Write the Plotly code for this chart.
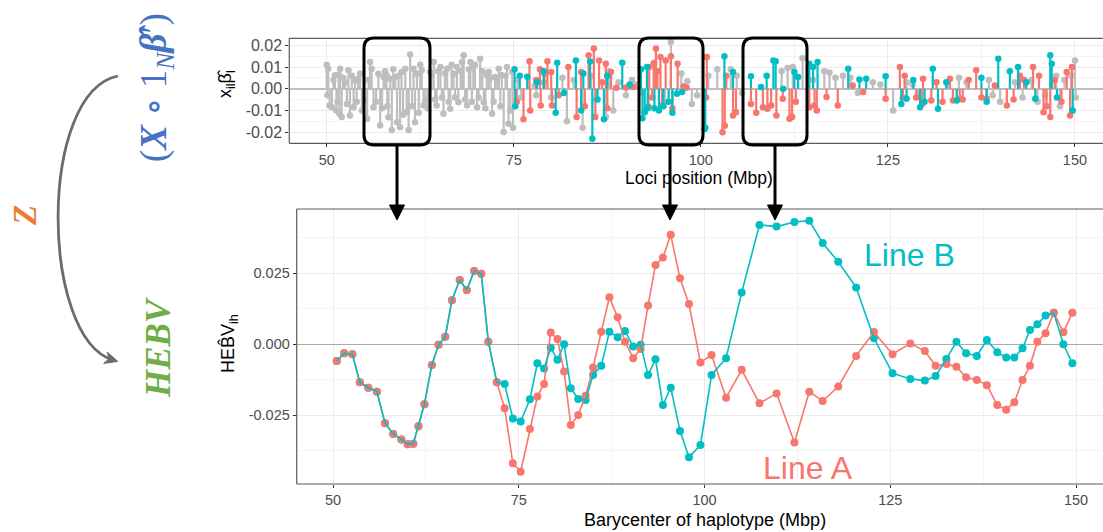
import plotly.graph_objects as go

W, H = 1103, 532

# ---------------- bottom panel data (HEBV per haplotype) ----------------
hap_pos = [50.5, 51.5, 52.6, 53.6, 54.75, 55.9, 57.0, 58.1, 59.2, 60.05,
           60.8, 61.5, 62.3, 63.3, 64.2, 65.1, 66.0, 67.05, 68.0, 69.0,
           69.95, 70.9, 72.05, 73.1, 74.2, 75.25, 76.5, 77.5, 78.4, 79.3,
           80.2, 81.1, 82.0, 83.0, 84.0, 85.0, 86.1, 87.2, 88.3, 89.3,
           90.4, 91.4, 92.4, 93.4, 94.4, 95.45, 96.7, 97.9, 99.45, 100.95,
           102.9, 105.0, 107.4, 109.7, 112.1, 114.1, 115.9, 118.0, 120.4, 122.8,
           125.3, 127.7, 129.65, 131.1, 132.55, 133.9, 135.2, 136.65, 138.0, 139.4,
           140.6, 141.7, 142.8, 143.8, 144.8, 145.9, 147.0, 148.3, 149.5]

line_a = [-0.0059, -0.0032, -0.0035, -0.0134, -0.0153, -0.0167, -0.0278, -0.0316, -0.0335, -0.0352,
          -0.0350, -0.0289, -0.0211, -0.0073, -0.0002, 0.0026, 0.0155, 0.0226, 0.0191, 0.0258,
          0.0248, 0.0009, -0.0134, -0.0225, -0.0419, -0.0449, -0.0298, -0.0184, -0.0140, 0.0041,
          0.0018, -0.0096, -0.0284, -0.0249, -0.0181, -0.0082, 0.0044, 0.0165, 0.0095, 0.0009,
          -0.0049, -0.0017, 0.0136, 0.0279, 0.0305, 0.0385, 0.0232, 0.0142, -0.0064, -0.0038,
          -0.0188, -0.0090, -0.0208, -0.0173, -0.0346, -0.0167, -0.0200, -0.0149, -0.0041, 0.0043,
          -0.0035, 0.0003, -0.0024, -0.0076, -0.0070, -0.0079, -0.0116, -0.0126, -0.0144, -0.0214,
          -0.0231, -0.0204, -0.0126, -0.0076, 0.0009, 0.0039, 0.0111, 0.0042, 0.0111]

line_b = [-0.0059, -0.0032, -0.0035, -0.0134, -0.0153, -0.0167, -0.0278, -0.0316, -0.0335, -0.0352,
          -0.0350, -0.0289, -0.0211, -0.0073, -0.0002, 0.0026, 0.0155, 0.0226, 0.0191, 0.0258,
          0.0248, 0.0009, -0.0134, -0.0140, -0.0261, -0.0272, -0.0194, -0.0067, -0.0085, -0.0012,
          -0.0055, 0.0000, -0.0155, -0.0193, -0.0196, -0.0108, -0.0076, 0.0044, 0.0025, 0.0047,
          -0.0008, -0.0002, -0.0108, -0.0053, -0.0214, -0.0153, -0.0305, -0.0398, -0.0355, -0.0108,
          -0.0049, 0.0182, 0.0420, 0.0414, 0.0430, 0.0435, 0.0356, 0.0290, 0.0200, 0.0021,
          -0.0102, -0.0122, -0.0128, -0.0112, -0.0052, 0.0009, -0.0032, -0.0041, 0.0015, -0.0028,
          -0.0047, -0.0047, -0.0014, 0.0050, 0.0070, 0.0101, 0.0111, 0.0000, -0.0067]

# ---------------- top panel data (x_il * beta_l per locus) ----------------
grey_pos = [50.0, 50.2, 50.4, 50.7, 51.1, 51.3, 51.6, 51.7, 51.8, 52.0,
            52.45, 52.9, 53.1, 53.6, 53.8, 54.2, 54.7, 55.4, 55.8, 56.0,
            56.25, 56.9, 57.15, 57.6, 58.0, 58.25, 58.5, 58.7, 59.15, 59.4,
            59.8, 60.0, 60.5, 60.7, 60.95, 61.15, 61.6, 61.8, 62.05, 62.7,
            62.95, 63.2, 63.8, 64.3, 64.7, 65.2, 65.6, 66.1, 66.5, 66.95,
            67.4, 67.6, 68.1, 68.3, 68.75, 69.2, 69.6, 70.1, 70.5, 71.0,
            71.4, 71.65, 72.1, 72.5, 73.0, 73.4, 73.65, 74.1, 74.3, 74.8,
            50.1, 50.9, 51.45, 52.2, 52.7, 53.35, 54.0, 54.45, 55.0, 55.6,
            56.6, 57.4, 57.8, 58.1, 58.9, 59.6, 60.2, 61.4, 62.3, 62.5,
            63.5, 64.0, 64.5, 64.9, 65.4, 65.8, 66.3, 66.7, 67.15, 67.9,
            68.5, 69.0, 69.4, 69.8, 70.3, 70.8, 71.2, 71.9, 72.3, 72.8,
            73.2, 73.9, 74.55, 74.9,
            75.5, 76.0, 77.8, 78.0, 79.0, 80.0, 81.5, 82.1, 83.0, 84.2,
            85.3, 86.0, 87.3, 87.7, 88.3, 89.0, 90.0, 90.8, 91.5, 92.0,
            93.8, 95.2, 96.0, 97.4, 98.2, 98.8, 99.5, 101.0, 102.2, 104.0,
            104.8, 105.5, 110.8, 111.6, 112.3, 113.6, 115.0, 116.5, 117.2, 118.0,
            119.0, 120.0, 121.0, 123.0, 124.0, 125.7, 127.5, 128.3, 129.0, 133.0,
            134.5, 135.5, 138.5, 139.0, 140.0, 142.0, 143.0, 144.2, 145.0, 146.0,
            147.5, 148.0, 148.6, 149.5, 150.0, 150.1]
grey_val = [0.0110, 0.0092, -0.0077, -0.0085, 0.0062, -0.0100, 0.0065, -0.0115, 0.0092, -0.0130,
            0.0030, 0.0085, -0.0123, -0.0085, 0.0038, 0.0046, -0.0100, -0.0138, 0.0123, 0.0092,
            -0.0085, 0.0069, -0.0169, 0.0054, 0.0062, -0.0131, 0.0046, -0.0190, 0.0054, -0.0154,
            -0.0177, 0.0077, 0.0092, -0.0108, -0.0190, 0.0157, 0.0092, -0.0154, 0.0069, 0.0085,
            -0.0077, -0.0054, 0.0077, 0.0123, -0.0077, 0.0100, -0.0115, 0.0092, -0.0092, 0.0069,
            0.0100, -0.0062, 0.0123, 0.0154, -0.0077, 0.0123, 0.0100, -0.0085, 0.0138, -0.0062,
            0.0062, 0.0077, -0.0115, 0.0054, 0.0092, 0.0062, -0.0199, 0.0100, -0.0161, 0.0077,
            -0.0030, 0.0040, -0.0060, 0.0050, -0.0070, 0.0060, -0.0060, 0.0070, -0.0050, 0.0040,
            -0.0060, -0.0090, 0.0080, -0.0080, 0.0090, 0.0060, -0.0120, -0.0080, -0.0110, 0.0110,
            -0.0090, 0.0060, -0.0050, 0.0080, -0.0040, 0.0070, -0.0060, 0.0110, -0.0040, 0.0080,
            -0.0050, 0.0090, -0.0060, 0.0110, -0.0040, 0.0080, -0.0090, 0.0050, -0.0060, 0.0040,
            -0.0080, 0.0060, -0.0100, -0.0180,
            0.0040, -0.0040, 0.0015, -0.0030, 0.0030, -0.0040, 0.0050, -0.0150, 0.0040, -0.0180,
            0.0060, -0.0050, -0.0130, 0.0080, -0.0100, 0.0030, -0.0030, 0.0040, 0.0020, -0.0020,
            0.0120, -0.0060, 0.0215, 0.0070, 0.0035, -0.0070, -0.0030, 0.0060, 0.0090, 0.0090,
            0.0060, -0.0020, 0.0080, 0.0095, 0.0100, 0.0140, 0.0040, 0.0080, 0.0075, 0.0050,
            0.0060, 0.0050, -0.0020, 0.0030, 0.0020, -0.0100, 0.0030, 0.0020, -0.0030, 0.0020,
            0.0050, 0.0030, 0.0040, -0.0030, -0.0060, 0.0030, -0.0040, 0.0040, -0.0060, -0.0030,
            0.0060, -0.0080, 0.0040, 0.0060, 0.0130, -0.0040]

red_pos = [75.4, 76.3, 77.1, 77.2, 78.0, 78.5, 78.6, 79.1, 79.5, 80.0,
           80.1, 81.0, 82.3, 83.4, 84.0, 84.5, 85.0, 85.7, 85.9, 86.4,
           86.8, 87.3, 87.5, 88.0, 88.7, 90.0, 91.0, 93.0, 93.1, 93.5,
           93.7, 94.0, 94.2, 94.6, 94.8, 95.3, 96.0, 96.2, 96.9, 97.7,
           98.1, 100.7, 100.8, 102.9, 103.2, 103.4, 104.3, 104.7, 106.7, 107.4,
           108.3, 108.9, 109.4, 110.1, 110.95, 111.85, 112.2, 112.7, 114.5, 115.2,
           115.5, 116.8, 118.3, 120.3, 121.7, 124.7, 126.6, 127.0, 127.25, 129.6,
           129.7, 130.8, 133.3, 133.7, 134.6, 136.8, 138.2, 139.3, 140.9, 142.65,
           144.4, 145.8, 146.7, 147.3, 148.9, 149.35, 149.6,
           128.8, 131.5, 132.3, 135.0, 135.8, 137.5, 141.8, 143.2, 145.2, 146.2, 148.2]
red_val = [-0.0060, -0.0140, 0.0126, -0.0100, 0.0040, 0.0090, -0.0077, 0.0070, 0.0126, 0.0077,
           -0.0077, -0.0030, 0.0100, -0.0130, 0.0077, -0.0080, 0.0154, 0.0185, -0.0130, 0.0130,
           0.0030, 0.0115, -0.0090, 0.0077, 0.0005, 0.0006, 0.0008, -0.0082, 0.0100, -0.0040,
           0.0116, 0.0185, 0.0080, 0.0146, -0.0077, 0.0130, 0.0150, -0.0090, 0.0115, 0.0010,
           0.0004, -0.0040, 0.0146, -0.0200, -0.0170, 0.0060, -0.0123, -0.0108, -0.0070, -0.0110,
           -0.0085, -0.0092, -0.0077, -0.0123, -0.0046, -0.0138, -0.0130, -0.0060, -0.0085, -0.0077,
           -0.0100, -0.0038, -0.0077, 0.0015, -0.0015, -0.0046, 0.0100, -0.0040, 0.0060, -0.0070,
           0.0046, -0.0054, 0.0046, -0.0054, -0.0046, 0.0085, -0.0046, 0.0015, -0.0077, 0.0060,
           0.0100, -0.0108, -0.0130, 0.0040, 0.0077, -0.0123, 0.0100,
           -0.0040, 0.0030, -0.0060, -0.0050, 0.0040, -0.0040, -0.0050, 0.0040, 0.0060, -0.0080, -0.0060]

teal_pos = [75.1, 75.2, 75.8, 76.8, 78.1, 79.0, 80.6, 80.8, 81.7, 83.3,
            84.0, 84.3, 85.2, 85.5, 86.2, 87.05, 87.5, 89.5, 90.5, 92.0,
            92.2, 92.5, 92.8, 92.9, 93.8, 94.4, 95.0, 95.7, 96.2, 96.8,
            97.5, 100.5, 100.6, 103.15, 104.3, 106.7, 108.05, 108.8, 109.7, 110.0,
            111.0, 112.5, 113.0, 114.5, 115.0, 115.6, 119.7, 121.2, 122.1, 124.7,
            126.8, 127.5, 128.4, 129.3, 129.9, 131.0, 131.7, 132.8, 134.2, 137.5,
            138.2, 139.75, 141.3, 142.4, 143.5, 144.7, 146.7, 146.9, 147.6, 149.7]
teal_val = [0.0090, -0.0080, 0.0060, 0.0055, 0.0030, 0.0080, -0.0110, 0.0120, -0.0020, 0.0130,
            -0.0100, 0.0070, 0.0125, -0.0230, -0.0050, -0.0140, 0.0060, 0.0120, 0.0020, 0.0090,
            -0.0136, -0.0108, 0.0100, -0.0090, -0.0090, -0.0100, -0.0080, -0.0060, -0.0110, -0.0023,
            -0.0015, -0.0185, -0.0180, 0.0150, 0.0077, 0.0058, 0.0008, 0.0060, 0.0130, 0.0127,
            0.0000, 0.0077, 0.0054, 0.0115, 0.0100, 0.0123, 0.0092, 0.0043, 0.0046, 0.0058,
            -0.0070, -0.0046, 0.0040, -0.0085, -0.0060, 0.0092, -0.0092, 0.0030, -0.0054, 0.0050,
            -0.0060, 0.0138, 0.0080, 0.0100, 0.0030, -0.0046, 0.0154, 0.0115, -0.0040, -0.0100]

x_ticks = [50, 75, 100, 125, 150]
x_minor = [62.5, 87.5, 112.5, 137.5]
top_y_ticks = [-0.02, -0.01, 0.0, 0.01, 0.02]
top_y_labels = ["-0.02", "-0.01", "0.00", "0.01", "0.02"]
top_y_minor = [-0.015, -0.005, 0.005, 0.015]
bot_y_ticks = [-0.025, 0.0, 0.025]
bot_y_labels = ["-0.025", "0.000", "0.025"]
bot_y_minor = [-0.0375, -0.0125, 0.0125, 0.0375]

for a, b in [(hap_pos, line_a), (hap_pos, line_b), (grey_pos, grey_val),
             (red_pos, red_val), (teal_pos, teal_val)]:
    assert len(a) == len(b)

RED, TEAL, GREY = "#F8766D", "#00BFC4", "#BEBEBE"
SANS = "Liberation Sans, Arial, sans-serif"
SERIF = "Liberation Serif, DejaVu Serif, serif"


def fx(px):
    return px / W


def fy(py):
    return 1 - py / H


def stems(pos, val):
    xs, ys = [], []
    for p, v in zip(pos, val):
        xs += [p, p, None]
        ys += [0, v, None]
    return xs, ys


fig = go.Figure()

# top lollipops
for pos, val, col in [(grey_pos, grey_val, GREY), (red_pos, red_val, RED), (teal_pos, teal_val, TEAL)]:
    sx, sy = stems(pos, val)
    fig.add_trace(go.Scatter(x=sx, y=sy, mode="lines", line=dict(color=col, width=2.2),
                             xaxis="x", yaxis="y", hoverinfo="skip", showlegend=False))
    fig.add_trace(go.Scatter(x=pos, y=val, mode="markers", marker=dict(color=col, size=6.5),
                             xaxis="x", yaxis="y", showlegend=False))

# bottom lines
fig.add_trace(go.Scatter(x=hap_pos, y=line_b, mode="markers", marker=dict(color=TEAL, size=8),
                         xaxis="x2", yaxis="y2", showlegend=False))
fig.add_trace(go.Scatter(x=hap_pos, y=line_a, mode="markers", marker=dict(color=RED, size=8),
                         xaxis="x2", yaxis="y2", showlegend=False))
fig.add_trace(go.Scatter(x=hap_pos, y=line_a, mode="lines", line=dict(color=RED, width=1.6),
                         xaxis="x2", yaxis="y2", showlegend=False))
fig.add_trace(go.Scatter(x=hap_pos, y=line_b, mode="lines", line=dict(color=TEAL, width=1.6),
                         xaxis="x2", yaxis="y2", showlegend=False))

axis_common = dict(ticks="outside", ticklen=3, tickwidth=1, tickcolor="#333333",
                   showgrid=True, gridcolor="#EBEBEB", gridwidth=1,
                   showline=False, fixedrange=True)

TOP_L, TOP_T, TOP_B = 289.3, 38.3, 143.3
BOT_L, BOT_T, BOT_B = 296.7, 209.0, 484.0

fig.update_layout(
    width=W, height=H, margin=dict(l=0, r=0, t=0, b=0),
    paper_bgcolor="white", plot_bgcolor="white",
    font=dict(family=SANS),
    xaxis=dict(domain=[fx(TOP_L), 1], range=[45, 153.75], anchor="y",
               tickmode="array", tickvals=x_ticks, ticktext=[str(t) for t in x_ticks],
               tickfont=dict(size=14.5, color="#4D4D4D", family=SANS), zeroline=False,
               minor=dict(tickmode="array", tickvals=x_minor, showgrid=True, gridcolor="#F4F4F4", ticks=""),
               **axis_common),
    yaxis=dict(domain=[fy(TOP_B), fy(TOP_T)], range=[-0.0251, 0.0232], anchor="x",
               tickmode="array", tickvals=top_y_ticks, ticktext=top_y_labels,
               tickfont=dict(size=16, color="#4D4D4D", family=SANS),
               zeroline=True, zerolinecolor="#BEBEBE", zerolinewidth=1.6,
               minor=dict(tickmode="array", tickvals=top_y_minor, showgrid=True, gridcolor="#F4F4F4", ticks=""),
               **axis_common),
    xaxis2=dict(domain=[fx(BOT_L), 1], range=[45.11, 153.63], anchor="y2",
                tickmode="array", tickvals=x_ticks, ticktext=[str(t) for t in x_ticks],
                tickfont=dict(size=14.5, color="#4D4D4D", family=SANS), zeroline=False,
                minor=dict(tickmode="array", tickvals=x_minor, showgrid=True, gridcolor="#F4F4F4", ticks=""),
                **axis_common),
    yaxis2=dict(domain=[fy(BOT_B), fy(BOT_T)], range=[-0.0492, 0.0476], anchor="x2",
                tickmode="array", tickvals=bot_y_ticks, ticktext=bot_y_labels,
                tickfont=dict(size=14.5, color="#4D4D4D", family=SANS),
                zeroline=True, zerolinecolor="#ABABAB", zerolinewidth=1.2,
                minor=dict(tickmode="array", tickvals=bot_y_minor, showgrid=True, gridcolor="#F4F4F4", ticks=""),
                **axis_common),
)

shapes = []
BORDER = dict(color="#5A5A5A", width=1.2)
for L, T, B in [(TOP_L, TOP_T, TOP_B), (BOT_L, BOT_T, BOT_B)]:
    shapes.append(dict(type="line", xref="paper", yref="paper", x0=fx(L), x1=fx(L), y0=fy(T), y1=fy(B), line=BORDER))
    shapes.append(dict(type="line", xref="paper", yref="paper", x0=fx(L), x1=1, y0=fy(T), y1=fy(T), line=BORDER))
    shapes.append(dict(type="line", xref="paper", yref="paper", x0=fx(L), x1=1, y0=fy(B), y1=fy(B), line=BORDER))


def rrect(x0, y0, x1, y1, r):
    return (f"M {fx(x0 + r)},{fy(y0)} L {fx(x1 - r)},{fy(y0)} Q {fx(x1)},{fy(y0)} {fx(x1)},{fy(y0 + r)} "
            f"L {fx(x1)},{fy(y1 - r)} Q {fx(x1)},{fy(y1)} {fx(x1 - r)},{fy(y1)} "
            f"L {fx(x0 + r)},{fy(y1)} Q {fx(x0)},{fy(y1)} {fx(x0)},{fy(y1 - r)} "
            f"L {fx(x0)},{fy(y0 + r)} Q {fx(x0)},{fy(y0)} {fx(x0 + r)},{fy(y0)} Z")


def tri(pts):
    s = "M " + " L ".join(f"{fx(a)},{fy(b)}" for a, b in pts) + " Z"
    return s


boxes = [(364, 38, 430, 145, 397), (639, 38, 703, 145, 670), (743, 38, 807, 145, 775)]
for x0, y0, x1, y1, ax in boxes:
    shapes.append(dict(type="path", xref="paper", yref="paper", path=rrect(x0, y0, x1, y1, 10),
                       line=dict(color="black", width=3)))
    shapes.append(dict(type="line", xref="paper", yref="paper", x0=fx(ax), x1=fx(ax),
                       y0=fy(y1 + 1), y1=fy(208), line=dict(color="black", width=3)))
    shapes.append(dict(type="path", xref="paper", yref="paper",
                       path=tri([(ax - 7.5, 205), (ax + 7.5, 205), (ax, 220)]),
                       fillcolor="black", line=dict(color="black", width=1)))

# curved arrow on the left
p0, p1, p2, p3 = (118, 76), (38, 92), (40, 338), (113, 360)
curve = (f"M {fx(p0[0])},{fy(p0[1])} C {fx(p1[0])},{fy(p1[1])} "
         f"{fx(p2[0])},{fy(p2[1])} {fx(p3[0])},{fy(p3[1])}")
shapes.append(dict(type="path", xref="paper", yref="paper", path=curve,
                   line=dict(color="#6E6A66", width=2.8)))
dx, dy = p3[0] - p2[0], p3[1] - p2[1]
n = (dx ** 2 + dy ** 2) ** 0.5
ux, uy = dx / n, dy / n
tip = (p3[0] + 5 * ux, p3[1] + 5 * uy)
base = (tip[0] - 13 * ux, tip[1] - 13 * uy)
notch = (tip[0] - 9 * ux, tip[1] - 9 * uy)
px_, py_ = -uy, ux
head = [tip, (base[0] + 6 * px_, base[1] + 6 * py_), notch, (base[0] - 6 * px_, base[1] - 6 * py_)]
shapes.append(dict(type="path", xref="paper", yref="paper", path=tri(head),
                   fillcolor="#6E6A66", line=dict(color="#6E6A66", width=1)))

fig.update_layout(shapes=shapes)


def ann(text, px, py, size, color, angle=0, family=SANS):
    return dict(text=text, x=fx(px), y=fy(py), xref="paper", yref="paper", showarrow=False,
                xanchor="center", yanchor="middle", textangle=angle,
                font=dict(size=size, color=color, family=family))


annotations = [
    ann("Loci position (Mbp)", 699, 178, 17.5, "black"),
    ann("Barycenter of haplotype (Mbp)", 705, 520, 18, "black"),
    ann("x<sub>il</sub>\u03b2\u0302<sub>l</sub>", 226, 84, 18, "black", -90),
    ann("HEB\u0302V<sub>ih</sub>", 229, 344, 18, "black", -90),
    ann("Line B", 909, 255, 32, TEAL),
    ann("Line A", 808, 468, 32, RED),
    ann("(<b><i>X</i></b> \u2218 1<sub><i>N</i></sub><b><i>\u03b2\u0302</i></b>\u2032)", 156, 88, 37,
        "#4472C4", -90, SERIF),
    ann("<b><i>Z</i></b>", 25, 216, 33, "#ED7D31", -90, SERIF),
    ann("<b><i>HEBV</i></b>", 158, 348, 35, "#70AD47", -90, SERIF),
]
fig.update_layout(annotations=annotations)

fig.write_html("out.html")
